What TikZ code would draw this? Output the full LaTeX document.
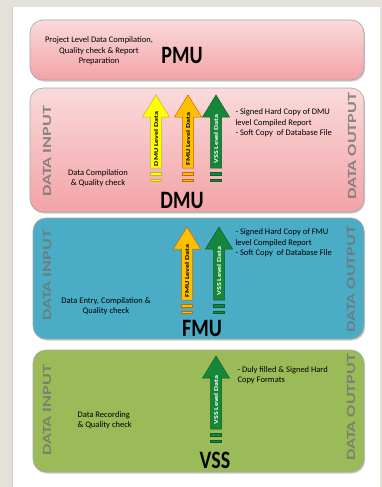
\documentclass[tikz,border=0pt]{standalone}
\usepackage{fontspec}
\setmainfont{Carlito}
\usetikzlibrary{shadows}

\definecolor{pagegray}{HTML}{E4E1DA}
\definecolor{pinktop}{HTML}{FADADB}
\definecolor{pinkbot}{HTML}{F2A3A6}
\definecolor{fmublue}{HTML}{4BACC6}
\definecolor{vssgreen}{HTML}{9BBB59}
\definecolor{arryellow}{HTML}{FFFF00}
\definecolor{arrorange}{HTML}{FFC000}
\definecolor{arrgreen}{HTML}{16873A}

% level arrow: name, x, tip y, fill, outline, text colour, label
\newcommand{\levelarrow}[7]{%
  \draw[fill=#4,draw=#5,line width=0.5pt] (#2-5.5,#3+73) -- (#2-5.5,#3+22) -- (#2-13.5,#3+22)
    -- (#2,#3) -- (#2+13.5,#3+22) -- (#2+5.5,#3+22) -- (#2+5.5,#3+73) -- cycle;
  \node[arrowtext,text=#6] (#1) at (#2,#3+44) {#7};
  \draw[fill=#4,draw=#5,line width=0.4pt] (#2-5.5,#3+77) rectangle (#2+5.5,#3+80.5);
  \draw[fill=#4,draw=#5,line width=0.4pt] (#2-5.5,#3+84) rectangle (#2+5.5,#3+86);
}

\begin{document}
\begin{tikzpicture}[x=1pt,y=-1pt,
  levelbox/.style={draw=black!35,line width=0.6pt,rounded corners=13pt,
    drop shadow={shadow xshift=1pt,shadow yshift=-1.5pt,fill=black!40}},
  smalltext/.style={font=\fontsize{8.5}{10.5}\selectfont,align=center},
  unitname/.style={font=\bfseries\fontsize{20}{20}\selectfont,yscale=1.25},
  sidetag/.style={font=\bfseries\fontsize{12.5}{12.5}\selectfont,text=black!55,
    text opacity=0.8,rotate=90,xscale=1.45},
  arrowtext/.style={font=\bfseries\fontsize{6}{6}\selectfont,rotate=90,xscale=1.35,inner sep=0pt}]
  \useasboundingbox (0,0) rectangle (382,487);
  % page
  \fill[pagegray] (0,0) rectangle (382,487);
  \fill[white] (12,7) rectangle (380,487);
  \draw[black!20] (12,7) -- (12,487);

  % PMU
  \node[levelbox,top color=pinktop,bottom color=pinkbot,minimum width=334pt,minimum height=60pt] (pmu) at (197,50) {};
  \node[smalltext] (pmutxt) at (99,51) {Project Level Data Compilation,\\Quality check \& Report\\Preparation};
  \node[unitname] (pmuname) at (182,55) {PMU};

  % DMU
  \node[levelbox,top color=pinktop,bottom color=pinkbot,minimum width=334pt,minimum height=124pt] (dmu) at (197,150) {};
  \node[sidetag] (dmuin) at (47,151) {DATA INPUT};
  \node[sidetag] (dmuout) at (352,146) {DATA OUTPUT};
  \node[smalltext] (dmutxt) at (98,178) {Data Compilation\\\& Quality check};
  \node[smalltext,align=left,anchor=west] (dmucopy) at (232,123) {- Signed Hard Copy of DMU\\level Compiled Report\\- Soft Copy~ of Database File};
  \levelarrow{dmuy}{156}{95}{arryellow}{yellow!70!black}{black}{DMU Level Data}
  \levelarrow{dmuo}{188}{95}{arrorange}{orange!80!black}{black}{FMU Level Data}
  \levelarrow{dmug}{216}{95}{arrgreen}{arrgreen!70!black}{white}{VSS Level Data}
  \node[unitname] (dmuname) at (182,200) {DMU};

  % FMU
  \node[levelbox,fill=fmublue,minimum width=331pt,minimum height=121pt] (fmu) at (198.5,278.5) {};
  \node[sidetag] (fmuin) at (47,275) {DATA INPUT};
  \node[sidetag] (fmuout) at (351,279) {DATA OUTPUT};
  \node[smalltext] (fmutxt) at (106,306) {Data Entry, Compilation \&\\Quality check};
  \node[smalltext,align=left,anchor=west] (fmucopy) at (232,243) {- Signed Hard Copy of FMU\\level Compiled Report\\- Soft Copy~ of Database File};
  \levelarrow{fmuo}{187}{227}{arrorange}{orange!80!black}{black}{FMU Level Data}
  \levelarrow{fmug}{219}{227}{arrgreen}{arrgreen!70!black}{white}{VSS Level Data}
  \node[unitname] (fmuname) at (202,328) {FMU};

  % VSS
  \node[levelbox,fill=vssgreen,minimum width=331pt,minimum height=122pt] (vss) at (198.5,411) {};
  \node[sidetag] (vssin) at (47,410) {DATA INPUT};
  \node[sidetag] (vssout) at (351,407) {DATA OUTPUT};
  \node[smalltext,align=left,anchor=west] (vsstxt) at (74,420) {Data Recording\\\& Quality check};
  \node[smalltext,align=left,anchor=west] (vsscopy) at (234,375) {- Duly filled \& Signed Hard\\Copy Formats};
  \levelarrow{vssg}{216}{356}{arrgreen}{arrgreen!70!black}{white}{VSS Level Data}
  \node[unitname] (vssname) at (215,460) {VSS};
\end{tikzpicture}
\end{document}
